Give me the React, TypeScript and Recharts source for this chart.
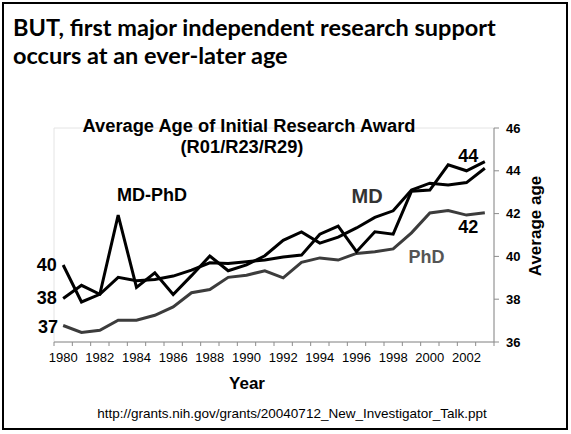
import React from 'react';
import { LineChart, Line, XAxis, YAxis, ReferenceArea } from 'recharts';

const years = [1980, 1981, 1982, 1983, 1984, 1985, 1986, 1987, 1988, 1989, 1990, 1991, 1992, 1993, 1994, 1995, 1996, 1997, 1998, 1999, 2000, 2001, 2002, 2003];
const mdPhdAge = [39.6, 37.87, 38.23, 41.93, 38.55, 39.23, 38.22, 39.1, 40.02, 39.33, 39.6, 40.03, 40.75, 41.14, 40.62, 40.9, 41.33, 41.82, 42.13, 43.1, 43.42, 43.34, 43.45, 44.12];
const mdAge = [38.03, 38.65, 38.23, 39.02, 38.86, 38.92, 39.08, 39.36, 39.7, 39.67, 39.75, 39.83, 39.97, 40.06, 41.04, 41.42, 40.22, 41.15, 41.04, 43.05, 43.1, 44.28, 44.0, 44.43];
const phdAge = [36.77, 36.45, 36.55, 37.02, 37.02, 37.25, 37.64, 38.3, 38.45, 39.02, 39.12, 39.33, 39.0, 39.72, 39.93, 39.83, 40.14, 40.22, 40.35, 41.1, 42.03, 42.14, 41.93, 42.04];
const ageTicks = [36, 38, 40, 42, 44, 46];
const yearLabels = [1980, 1982, 1984, 1986, 1988, 1990, 1992, 1994, 1996, 1998, 2000, 2002];
const yearBounds = [...years.map((y) => y - 0.5), years[years.length - 1] + 0.5];
const xTicks = [...yearBounds, ...yearLabels].sort((a, b) => a - b);

const data = years.map((year, i) => ({ year, mdPhd: mdPhdAge[i], md: mdAge[i], phd: phdAge[i] }));

const FONT = '"Liberation Sans", Arial, Helvetica, sans-serif';
const TITLE_FONT = 'Lato, "Open Sans", sans-serif';

const YearTick = (props: any) => {
  const { x, y, payload } = props;
  const v = payload.value;
  if (Number.isInteger(v)) {
    return (
      <text x={x} y={y + 20} textAnchor="middle" fontSize={13} fontFamily={FONT} fill="#000">
        {v}
      </text>
    );
  }
  return <line x1={x} x2={x} y1={y} y2={y + 4} stroke="#8c8c8c" strokeWidth={1} />;
};

export default function App() {
  return (
    <div style={{ position: 'absolute', left: 0, top: 0, width: 571, height: 434, background: '#fff' }}>
      <LineChart
        width={571}
        height={434}
        data={data}
        margin={{ top: 128, left: 54, right: 17, bottom: 62 }}
      >
        <ReferenceArea x1={1979.5} x2={2003.5} y1={36} y2={46} fill="none" stroke="#e4e4e4" strokeWidth={1} ifOverflow="visible" />
        <XAxis
          dataKey="year"
          type="number"
          domain={[1979.5, 2003.5]}
          ticks={xTicks}
          interval={0}
          height={30}
          tickSize={0}
          tickMargin={0}
          axisLine={{ stroke: '#8c8c8c' }}
          tickLine={false}
          tick={YearTick}
          allowDataOverflow
        />
        <YAxis
          orientation="right"
          type="number"
          domain={[36, 46]}
          ticks={ageTicks}
          interval={0}
          width={60}
          tickSize={5}
          tickMargin={7}
          axisLine={{ stroke: '#8c8c8c' }}
          tickLine={{ stroke: '#8c8c8c' }}
          tick={{ fontSize: 13, fontWeight: 'bold', fill: '#000', fontFamily: FONT }}
          allowDataOverflow
        />
        <Line type="linear" dataKey="phd" stroke="#3c3c3c" strokeWidth={3} dot={false} isAnimationActive={false} />
        <Line type="linear" dataKey="md" stroke="#000" strokeWidth={3} dot={false} isAnimationActive={false} />
        <Line type="linear" dataKey="mdPhd" stroke="#000" strokeWidth={3} dot={false} isAnimationActive={false} />
      </LineChart>
      <svg width={571} height={434} style={{ position: 'absolute', left: 0, top: 0, pointerEvents: 'none' }}>
        <rect x={3} y={3} width={564} height={426} fill="none" stroke="#000" strokeWidth={2} />
        <text x={13} y={36} fontFamily={TITLE_FONT} fontWeight="bold" fontSize={23.5} fill="#000">BUT, first major independent research support</text>
        <text x={13} y={64} fontFamily={TITLE_FONT} fontWeight="bold" fontSize={23.5} fill="#000">occurs at an ever-later age</text>
        <text x={249} y={131.5} textAnchor="middle" fontFamily={FONT} fontWeight="bold" fontSize={18.3} fill="#000">Average Age of Initial Research Award</text>
        <text x={242} y={153} textAnchor="middle" fontFamily={FONT} fontWeight="bold" fontSize={18.3} fill="#000">(R01/R23/R29)</text>
        <text x={247} y={389} textAnchor="middle" fontFamily={FONT} fontWeight="bold" fontSize={17} fill="#000">Year</text>
        <text x={292} y={418} textAnchor="middle" fontFamily={FONT} fontSize={13.5} fill="#000">http://grants.nih.gov/grants/20040712_New_Investigator_Talk.ppt</text>
        <text x={535} y={226} textAnchor="middle" fontFamily={FONT} fontWeight="bold" fontSize={17} fill="#000" transform="rotate(-90 535 226)" dominantBaseline="central">Average age</text>
        <text x={117} y={200.5} fontFamily={FONT} fontWeight="bold" fontSize={18} fill="#000">MD-PhD</text>
        <text x={351.5} y={203} fontFamily={FONT} fontWeight="bold" fontSize={20} fill="#333">MD</text>
        <text x={408.5} y={263} fontFamily={FONT} fontWeight="bold" fontSize={18} fill="#555">PhD</text>
        <text x={458.3} y={161.5} fontFamily={FONT} fontWeight="bold" fontSize={18} fill="#000">44</text>
        <text x={458.3} y={232.5} fontFamily={FONT} fontWeight="bold" fontSize={18} fill="#000">42</text>
        <text x={36.7} y={271} fontFamily={FONT} fontWeight="bold" fontSize={18} fill="#000">40</text>
        <text x={36.7} y={304} fontFamily={FONT} fontWeight="bold" fontSize={18} fill="#000">38</text>
        <text x={38} y={333} fontFamily={FONT} fontWeight="bold" fontSize={18} fill="#000">37</text>
      </svg>
    </div>
  );
}
